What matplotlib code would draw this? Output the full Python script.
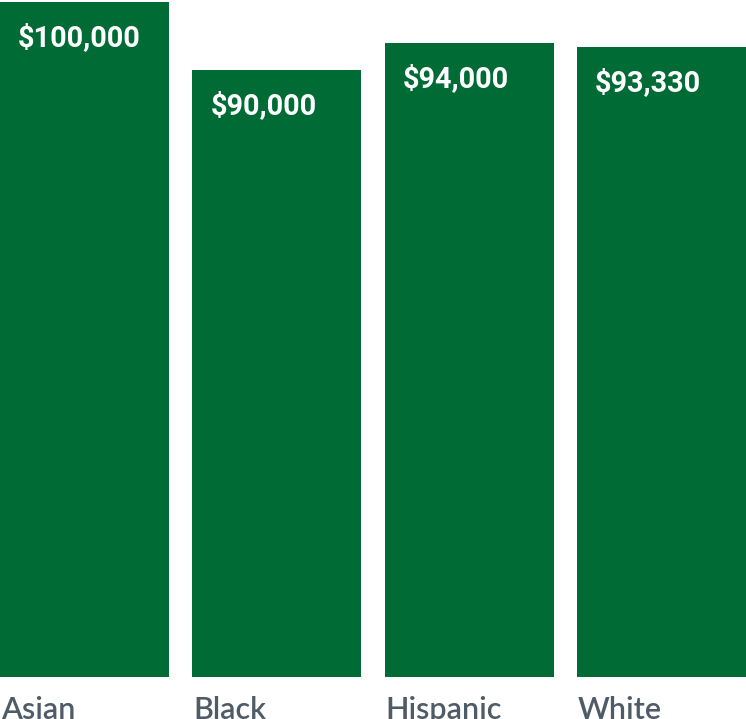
import matplotlib.pyplot as plt

groups = ["Asian", "Black", "Hispanic", "White"]
salaries = [100000, 90000, 94000, 93330]
value_labels = ["$100,000", "$90,000", "$94,000", "$93,330"]

BAR_COLOR = "#006b35"
LABEL_COLOR = "#4f5b66"
BAR_WIDTH = 0.879

W, H = 746, 719
fig = plt.figure(figsize=(W / 100, H / 100), dpi=100)
ax = fig.add_axes([0, 42 / H, 1, 675 / H])

x = list(range(len(groups)))
bars = ax.bar(x, salaries, width=BAR_WIDTH, color=BAR_COLOR, align="center")

ax.set_xlim(-BAR_WIDTH / 2, len(groups) - 1 + BAR_WIDTH / 2)
ax.set_ylim(0, 100000)
ax.axis("off")

for bar, text, name in zip(bars, value_labels, groups):
    left = bar.get_x()
    top = bar.get_height()
    # dollar amount inside the top-left corner of each bar
    ax.annotate(text, xy=(left, top), xytext=(13, -15.5),
                textcoords="offset points", ha="left", va="top",
                color="white", fontsize=20.8, fontweight="bold",
                family="Roboto")
    # group name under the bar
    ax.annotate(name, xy=(left, 0), xytext=(0.5, -13.5),
                textcoords="offset points", ha="left", va="top",
                color=LABEL_COLOR, fontsize=22, fontweight="semibold",
                family="Lato", annotation_clip=False)

fig.savefig("out.png", dpi=100)
